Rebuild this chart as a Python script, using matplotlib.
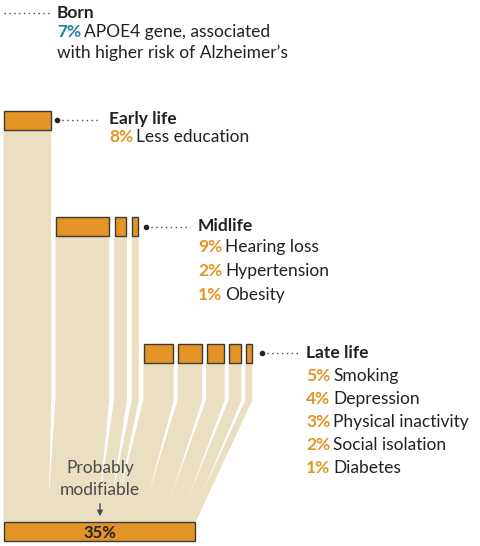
import matplotlib
matplotlib.use("Agg")
import matplotlib.pyplot as plt
from matplotlib.patches import Rectangle, Polygon

stages = ["Early life", "Midlife", "Late life"]
early_vals = [8]
early_labels = ["Less education"]
mid_vals = [9, 2, 1]
mid_labels = ["Hearing loss", "Hypertension", "Obesity"]
late_vals = [5, 4, 3, 2, 1]
late_labels = ["Smoking", "Depression", "Physical inactivity", "Social isolation", "Diabetes"]
born_val = 7
total_val = 35

ORANGE = "#E39424"
BAND = "#EADFC0"
EDGE = "#3a3a3a"
TEAL = "#1f7f9e"
DARK = "#222222"
GRAY = "#4a4a4a"
FONT = "Lato"

fig = plt.figure(figsize=(4.8, 5.46), dpi=100)
ax = fig.add_axes([0, 0, 1, 1])
ax.set_xlim(0, 480); ax.set_ylim(546, 0); ax.axis("off")

k = 191 / total_val   # bottom bar scale
kb = 5.85             # individual bar scale
rows = [(early_vals, 4, 111, 6), (mid_vals, 56, 217, 6), (late_vals, 144, 344, 5)]
bar_h = 19
bot_y = 522
knee_y = 400
dest = 4.0
bars = []
for vals, x0, y0, gap in rows:
    x = x0
    for v in vals:
        w = v * kb
        bars.append((x, y0, w, dest, v))
        x += w + gap
        dest += v * k

for x, y0, w, d, v in bars:
    ky = max(knee_y, y0 + bar_h + 30)
    poly = Polygon([(x, y0 + bar_h), (x + w, y0 + bar_h), (x + w, ky),
                    (d + v * k, bot_y), (d, bot_y), (x, ky)],
                   closed=True, fc=BAND, ec=BAND, lw=0.8, zorder=1)
    ax.add_patch(poly)
for x, y0, w, d, v in bars:
    ax.add_patch(Rectangle((x, y0), w, bar_h, fc=ORANGE, ec=EDGE, lw=1, zorder=3))
ax.add_patch(Rectangle((4, bot_y), total_val * k, bar_h, fc=ORANGE, ec=EDGE, lw=1, zorder=3))
ax.text(4 + total_val * k / 2, bot_y + bar_h / 2 + 1, f"{total_val}%", ha="center", va="center",
        fontsize=12, fontweight="bold", color=DARK, family=FONT, zorder=4)

ax.text(100, 468, "Probably", ha="center", va="center", fontsize=12.5, color=GRAY, family=FONT)
ax.text(100, 490, "modifiable", ha="center", va="center", fontsize=12.5, color=GRAY, family=FONT)
ax.annotate("", xy=(100, 519), xytext=(100, 501),
            arrowprops=dict(arrowstyle="-|>", color=GRAY, lw=1, mutation_scale=8))

def leader(x0, x1, y, dot=True):
    ax.plot([x0, x1], [y, y], ls=(0, (1, 2.5)), color=GRAY, lw=1)
    if dot:
        ax.plot([x0], [y], "o", ms=3, color=DARK)

leader(4, 50, 13, dot=False)
leader(57, 100, 120)
leader(146, 190, 227)
leader(262, 298, 353)

fig.canvas.draw()
r = fig.canvas.get_renderer()
inv = ax.transData.inverted()

def twopart(x, y, a, b, ca, fs=12.5):
    t = ax.text(x, y, a, ha="left", va="center", fontsize=fs, fontweight="bold",
                color=ca, family=FONT)
    bb = t.get_window_extent(renderer=r)
    xe = inv.transform((bb.x1, bb.y0))[0]
    ax.text(xe + 3, y, b, ha="left", va="center", fontsize=fs, color=DARK, family=FONT)

def head(x, y, s):
    ax.text(x, y, s, ha="left", va="center", fontsize=12.5, fontweight="bold", color=DARK, family=FONT)

head(57, 13, "Born")
twopart(57, 32, f"{born_val}%", "APOE4 gene, associated", TEAL)
ax.text(57, 53, "with higher risk of Alzheimer’s", ha="left", va="center", fontsize=12.5,
        color=DARK, family=FONT)

groups = [(early_vals, early_labels, 109, 119, 18, 24), (mid_vals, mid_labels, 198, 226, 21, 24),
          (late_vals, late_labels, 306, 353, 23, 23)]
for (vals, labels, x, y, first, step), st in zip(groups, stages):
    head(x, y, st)
    for i, (v, l) in enumerate(zip(vals, labels)):
        twopart(x, y + first + i * step, f"{v}%", l, ORANGE)

fig.savefig("out.png", dpi=100)
